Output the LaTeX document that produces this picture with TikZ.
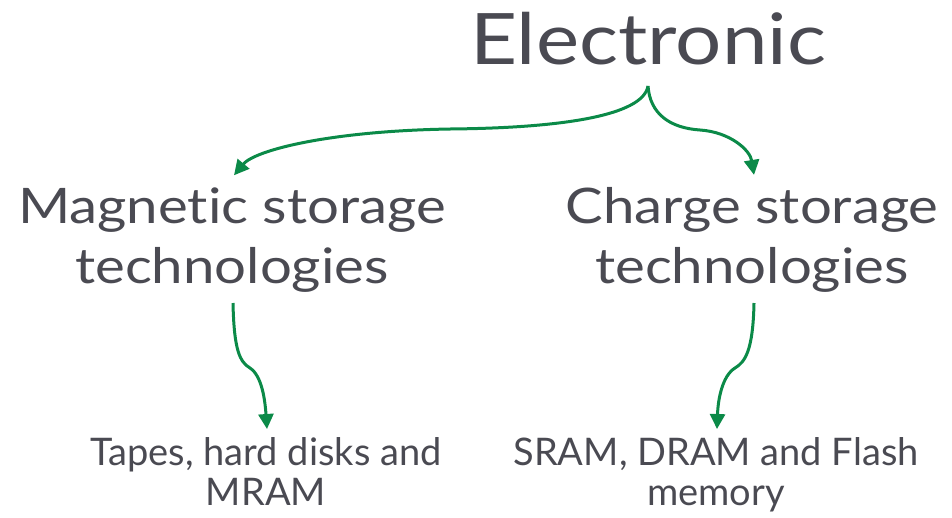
\documentclass[tikz,border=0pt]{standalone}
\usepackage{fontspec}
\setmainfont{Lato}[Ligatures=NoCommon]
\newfontfamily\widefont{Lato}[Ligatures=NoCommon,FakeStretch=1.15]
\usetikzlibrary{arrows.meta,calc}
\definecolor{txt}{HTML}{4A4A52}
\definecolor{grn}{HTML}{0B8A48}
\begin{document}
\begin{tikzpicture}[x=1pt,y=-1pt,
  lbl/.style={inner sep=0pt,outer sep=0pt,text depth=0pt,anchor=south,align=center,text=txt},
  big/.style={lbl,font=\widefont\fontsize{71}{80}\selectfont},
  mid/.style={lbl,font=\widefont\fontsize{49}{60}\selectfont},
  small/.style={lbl,font=\fontsize{38}{40}\selectfont},
  conn/.style={draw=grn,line width=3pt,-{Triangle[length=15pt,width=15pt]}}]
\useasboundingbox (0,0) rectangle (952,517);
\node[big] (elec) at (648,64) {Electronic};
\node[mid] (mag) at (232,283) {Magnetic storage\\technologies};
\node[mid] (chg) at (752,283) {Charge storage\\technologies};
\node[small] (tape) at (266,505) {Tapes, hard disks and\\MRAM};
\node[small] (sram) at (716,505) {SRAM, DRAM and Flash\\memory};
\coordinate (apex) at ($(elec.south)+(0,22)$);
\draw[conn] (apex) .. controls ($(apex)+(-5,30)$) and (560,128) .. (450,129)
  .. controls (330,131) and (255,150) .. ($(mag.north)+(2,-12)$);
\draw[conn] (apex) .. controls ($(apex)+(2,28)$) and (670,128) .. (700,130)
  .. controls (730,132) and (750,150) .. ($(chg.north)+(2,-12)$);
\draw[conn] ($(mag.south)+(1,20)$) .. controls ($(mag.south)+(2,68)$) and (240,362) .. (250,368)
  .. controls (262,376) and (265,400) .. ($(tape.north)+(1,-8)$);
\draw[conn] ($(chg.south)+(2,20)$) .. controls ($(chg.south)+(1,68)$) and (745,362) .. (735,368)
  .. controls (722,376) and (718,400) .. ($(sram.north)+(1,-8)$);
\end{tikzpicture}
\end{document}
